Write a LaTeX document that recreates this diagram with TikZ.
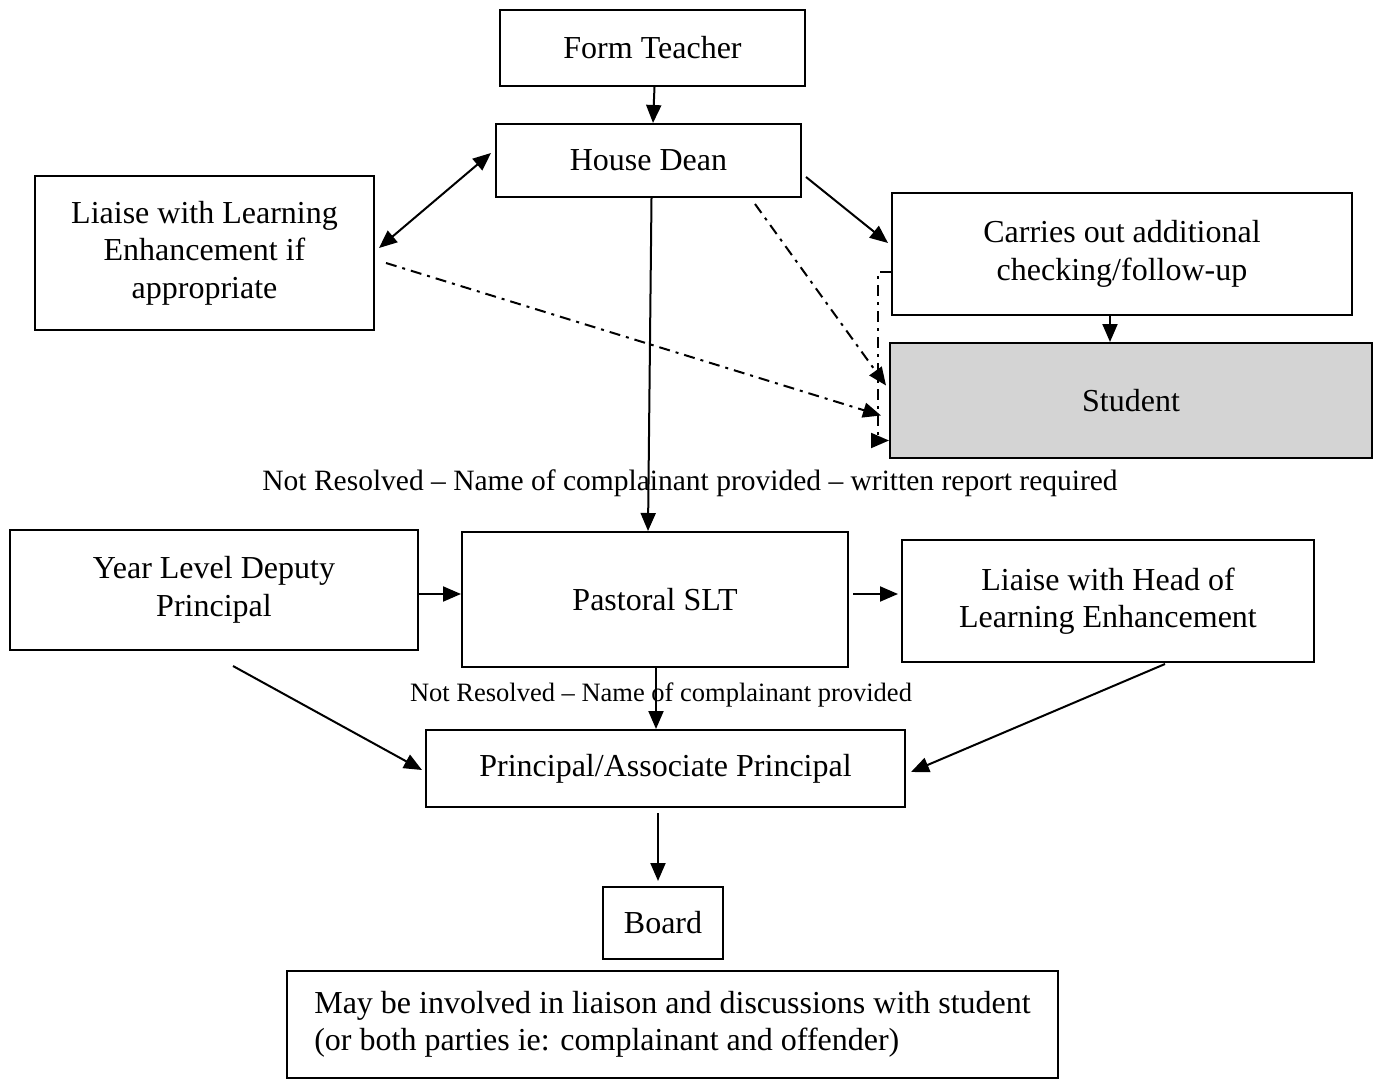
\documentclass[tikz,border=0pt]{standalone}
\usepackage{fontspec}
\setmainfont{Liberation Serif}
\usetikzlibrary{arrows.meta,calc}
\begin{document}
\begin{tikzpicture}[x=1pt,y=-1pt,
  box/.style={draw,line width=2pt,inner sep=0pt,align=center,font=\fontsize{32}{37.5}\selectfont},
  tip/.style={Triangle[length=18pt,width=15pt]},
  arr/.style={line width=2pt,-{Triangle[length=18pt,width=15pt]}},
  dda/.style={arr,dash pattern=on 11pt off 6pt on 3pt off 6pt},
  lbl/.style={inner sep=0pt}
]
\useasboundingbox (0,0) rectangle (1376,1086);
\node[box,minimum width=305,minimum height=76] (ft) at (652.5,48) {Form Teacher};
\node[box,minimum width=305,minimum height=73] (hd) at (648.5,160.5) {House Dean};
\node[box,minimum width=339,minimum height=154] (lle) at (204.5,253) {Liaise with Learning\\Enhancement if\\appropriate};
\node[box,minimum width=460,minimum height=122] (co) at (1122,254) {Carries out additional\\checking/follow-up};
\node[box,minimum width=482,minimum height=115,fill=black!17] (st) at (1131,400.5) {Student};
\node[box,minimum width=408,minimum height=120] (yl) at (214,590) {Year Level Deputy\\Principal};
\node[box,minimum width=386,minimum height=135] (ps) at (655,599.5) {Pastoral SLT};
\node[box,minimum width=412,minimum height=122] (lh) at (1108,601) {Liaise with Head of\\Learning Enhancement};
\node[box,minimum width=479,minimum height=77] (pr) at (665.5,768.5) {Principal/Associate Principal};
\node[box,minimum width=120,minimum height=72] (bd) at (663,923) {Board};
\node[box,minimum width=771,minimum height=107,align=left] (mb) at (672.5,1024.5) {May be involved in liaison and discussions with student\\(or both parties ie: complainant and offender)};
\node[lbl,font=\fontsize{29.5}{34}\selectfont] (l1) at (690,483) {Not Resolved -- Name of complainant provided -- written report required};
\node[lbl,font=\fontsize{26.5}{31}\selectfont] (l2) at (661,695) {Not Resolved -- Name of complainant provided};
% arrows
\draw[arr] ([xshift=2]ft.south) -- ([xshift=4.5]hd.north);
\draw[line width=2pt,{Triangle[length=18pt,width=15pt]}-{Triangle[length=18pt,width=15pt]}] ([xshift=4,yshift=5]lle.east) -- ([xshift=-4,yshift=7.5]hd.west);
\draw[arr] ([xshift=4,yshift=-16.5]hd.east) -- ([xshift=-3,yshift=11]co.west);
\draw[arr] ([xshift=3]hd.south) -- ([xshift=-7]ps.north);
\draw[dda] ([xshift=106.5,yshift=-6]hd.south) -- ([xshift=-3,yshift=15]st.west);
\draw[dda] ([xshift=11,yshift=-10]lle.east) -- ([xshift=-8,yshift=-15]st.west);
\draw[dda] ([yshift=-18]co.west) -- ++(-13,0) |- ([yshift=-40]st.west);
\draw[arr] ([xshift=-12]co.south) -- ([xshift=-21]st.north);
\draw[arr] ([yshift=-4]yl.east) -- ([yshift=5.5]ps.west);
\draw[arr] ([xshift=4,yshift=5.5]ps.east) -- ([xshift=-3,yshift=7]lh.west);
\draw[arr] ([xshift=1]ps.south) -- ([xshift=-9.5]pr.north);
\draw[arr] ([xshift=19,yshift=-15]yl.south) -- ([xshift=-3,yshift=-1.5]pr.west);
\draw[arr] ([xshift=57,yshift=-1]lh.south) -- ([xshift=5,yshift=-3.5]pr.east);
\draw[arr] ([xshift=-7.5,yshift=-5]pr.south) -- ([xshift=-5,yshift=5]bd.north);
\end{tikzpicture}
\end{document}
